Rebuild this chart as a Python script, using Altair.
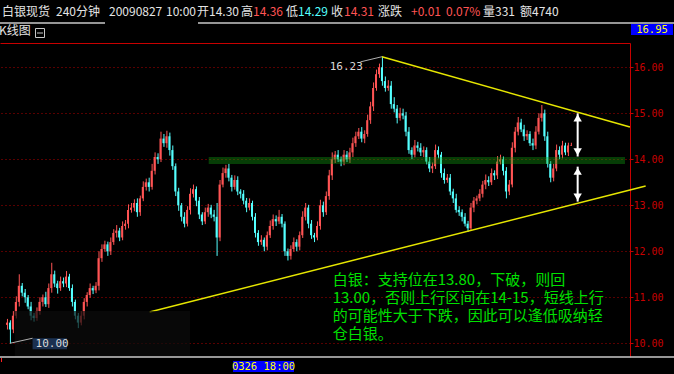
import altair as alt
import pandas as pd

# 白银现货 240分钟 K线: closing prices, oldest first
closes = [
    10.45, 10.30, 10.60, 10.90, 11.25, 11.10, 11.00, 10.80, 10.60, 10.55,
    10.70, 10.90, 11.00, 10.85, 11.20, 11.50, 11.30, 11.20, 11.35, 11.30,
    11.45, 11.20, 10.90, 10.60, 10.45, 10.60, 10.90, 11.05, 11.20, 11.15,
    11.25, 11.85, 12.05, 12.15, 12.00, 12.20, 12.40, 12.45, 12.30, 12.55,
    12.60, 12.90, 12.95, 13.05, 12.85, 13.15, 13.40, 13.50, 13.40, 13.75,
    14.05, 14.00, 14.45, 14.35, 14.50, 14.20, 13.85, 13.30, 13.00, 12.75,
    12.60, 12.90, 13.25, 13.35, 13.10, 12.80, 12.65, 12.85, 12.95, 12.80,
    12.75, 12.30, 13.45, 13.70, 13.80, 13.60, 13.40, 13.55, 13.30, 13.25,
    13.10, 12.95, 13.05, 12.75, 12.40, 12.20, 12.25, 12.10, 12.35, 12.55,
    12.70, 12.65, 12.75, 12.60, 12.00, 11.90, 12.05, 12.20, 12.10, 12.35,
    12.75, 12.95, 12.60, 12.35, 12.30, 12.55, 13.00, 12.85, 13.20, 13.65,
    14.00, 14.10, 14.00, 13.95, 14.10, 14.00, 14.15, 14.35, 14.50, 14.60,
    14.45, 14.55, 14.85, 15.15, 15.55, 15.85, 16.00, 15.70, 15.55, 15.60,
    15.20, 15.10, 14.90, 15.00, 14.95, 14.60, 14.20, 14.10, 14.30, 14.25,
    14.15, 14.20, 13.95, 13.80, 13.85, 14.20, 14.10, 13.70, 13.55, 13.60,
    13.30, 13.15, 12.90, 12.85, 12.75, 12.60, 12.50, 12.95, 13.10, 13.15,
    13.25, 13.45, 13.55, 13.50, 13.70, 13.65, 13.95, 14.00, 13.75, 13.30,
    13.45, 14.25, 14.60, 14.80, 14.65, 14.50, 14.55, 14.35, 14.30, 14.60,
    14.90, 15.00, 14.50, 13.90, 13.60, 13.80, 14.20, 14.10, 14.30, 14.15,
    14.30, 14.31,
]
first_open = 10.40

# shadow lengths in cents: above the body / below the body
upper_shadow = [
    8, 5, 10, 12, 25, 6, 8, 5, 10, 6,
    8, 10, 6, 12, 10, 25, 8, 6, 10, 8,
    12, 6, 8, 5, 6, 10, 8, 6, 10, 5,
    8, 15, 10, 8, 6, 10, 8, 12, 6, 10,
    8, 12, 10, 8, 10, 6, 12, 8, 10, 15,
    10, 8, 15, 10, 12, 8, 10, 6, 8, 5,
    10, 8, 12, 10, 6, 8, 5, 10, 8, 6,
    10, 30, 10, 12, 8, 10, 6, 10, 8, 5,
    8, 6, 10, 5, 8, 6, 10, 5, 8, 12,
    10, 8, 15, 6, 5, 6, 8, 10, 6, 8,
    12, 10, 6, 8, 5, 10, 12, 8, 10, 12,
    15, 8, 10, 6, 10, 8, 10, 12, 10, 8,
    10, 8, 12, 10, 12, 10, 8, 23, 10, 12,
    10, 15, 8, 12, 10, 8, 10, 6, 12, 8,
    10, 8, 6, 10, 8, 12, 8, 6, 10, 8,
    8, 6, 10, 8, 6, 8, 6, 10, 8, 6,
    10, 8, 12, 8, 10, 6, 12, 10, 6, 8,
    10, 12, 10, 12, 8, 10, 8, 6, 10, 12,
    10, 18, 8, 10, 6, 10, 12, 8, 10, 6,
    6, 5,
]
lower_shadow = [
    10, 30, 8, 6, 10, 8, 12, 6, 10, 8,
    6, 8, 10, 6, 8, 10, 8, 12, 6, 8,
    8, 6, 10, 8, 12, 6, 8, 10, 6, 8,
    6, 10, 8, 6, 10, 8, 6, 10, 8, 6,
    8, 10, 6, 8, 10, 8, 6, 8, 10, 6,
    8, 10, 6, 8, 10, 12, 8, 10, 12, 10,
    8, 6, 10, 8, 12, 10, 8, 6, 10, 8,
    10, 40, 8, 6, 10, 8, 10, 6, 8, 10,
    8, 10, 6, 8, 10, 8, 6, 10, 8, 6,
    8, 10, 6, 8, 10, 10, 8, 6, 10, 8,
    6, 8, 10, 8, 10, 6, 8, 10, 6, 8,
    10, 8, 6, 10, 8, 6, 8, 10, 8, 6,
    8, 10, 6, 8, 10, 6, 8, 10, 8, 6,
    10, 8, 12, 6, 8, 10, 8, 10, 6, 8,
    8, 10, 6, 8, 10, 6, 8, 10, 8, 6,
    8, 10, 6, 8, 10, 6, 8, 6, 10, 8,
    6, 8, 10, 8, 6, 10, 8, 6, 10, 15,
    8, 6, 10, 8, 6, 10, 8, 6, 10, 8,
    6, 8, 10, 8, 10, 8, 6, 10, 8, 6,
    8, 1,
]

volume, amount = 331, 4740
y_ticks = [10, 11, 12, 13, 14, 15, 16]

# trend lines (bar index, price)
trend_upper = [(127, 16.23), (211, 14.70)]
trend_lower = [(48.33, 10.68), (216.33, 13.42)]
support_band = (68.33, 209.33, 13.90, 14.05)
arrows = [(193.3, 15.00, 14.06), (193.3, 13.84, 13.08)]

note_lines = [
    "白银：支持位在13.80，下破，则回",
    "13.00，否则上行区间在14-15，短线上行",
    "的可能性大于下跌，因此可以逢低吸纳轻",
    "仓白银。",
]

UP, DOWN, FLAT = "#ff5454", "#54ffff", "#c0c0c0"
FRAME_RED = "#c80000"
CJK = "Noto Sans CJK SC"
MONO = "DejaVu Sans Mono"

W, H = 630, 314
xs = alt.Scale(domain=[-0.667, 209.333], nice=False, zero=False)
ys = alt.Scale(domain=[9.702, 16.528], nice=False, zero=False)
x_axis = alt.Axis(orient="top", labels=False, ticks=False, grid=False,
                  domainColor=FRAME_RED, title=None)
y_axis = alt.Axis(orient="right", values=y_ticks, format=".2f", title=None,
                  labelColor=FRAME_RED, labelFont=MONO, labelFontSize=10,
                  labelPadding=0, tickColor=FRAME_RED, tickSize=3,
                  domainColor=FRAME_RED, grid=True, gridColor="#b00000",
                  gridDash=[1, 3], gridWidth=1)


def X(field):
    return alt.X(field, type="quantitative", scale=xs, axis=x_axis)


def Y(field):
    return alt.Y(field, type="quantitative", scale=ys, axis=y_axis)


def PX(field):
    return alt.X(field, type="quantitative", scale=None, axis=None)


def PY(field):
    return alt.Y(field, type="quantitative", scale=None, axis=None)


opens = [first_open] + closes[:-1]
highs = [round(max(o, c) + u / 100, 2) for o, c, u in zip(opens, closes, upper_shadow)]
lows = [round(min(o, c) - d / 100, 2) for o, c, d in zip(opens, closes, lower_shadow)]
bars = pd.DataFrame({"i": range(len(closes)), "o": opens, "c": closes, "h": highs, "l": lows})
bars["col"] = [UP if c > o else (DOWN if c < o else FLAT) for o, c in zip(opens, closes)]

wicks = alt.Chart(bars).mark_rule(strokeWidth=1, xOffset=0.5).encode(
    x=X("i"), y=Y("l"), y2="h", color=alt.Color("col:N", scale=None))
bodies = alt.Chart(bars).mark_bar(width=2).encode(
    x=X("i"), y=Y("o"), y2="c", color=alt.Color("col:N", scale=None))

bx0, bx1, by0, by1 = support_band
band = alt.Chart(pd.DataFrame([{"x": bx0, "x2": bx1, "y": by0, "y2": by1}])).mark_rect(
    color="#10a010", opacity=0.38).encode(x=X("x"), x2="x2", y=Y("y"), y2="y2")

trend_df = pd.DataFrame(
    [{"seg": "upper", "x": x, "y": y} for x, y in trend_upper]
    + [{"seg": "lower", "x": x, "y": y} for x, y in trend_lower])
trends = alt.Chart(trend_df).mark_line(color="#e6e600", strokeWidth=1.5).encode(
    x=X("x"), y=Y("y"), detail="seg:N")

# extreme price markers
hi_idx = highs.index(max(highs))
lo_idx = lows.index(min(lows))
hi_line = alt.Chart(pd.DataFrame({"x": [119.7, hi_idx], "y": [16.117, max(highs)]})).mark_line(
    color="#b0b0b0", strokeWidth=1).encode(x=X("x"), y=Y("y"))
hi_text = alt.Chart(pd.DataFrame([{"x": 109.3, "y": 16.0, "t": f"{max(highs):.2f}"}])).mark_text(
    align="left", baseline="middle", font=MONO, fontSize=11, color="#d8d8d8").encode(
    x=X("x"), y=Y("y"), text="t:N")

dim = alt.Chart(pd.DataFrame([{"x": 2.67, "x2": 62.0, "y": 9.702, "y2": 10.70}])).mark_rect(
    color="#0c0c0c", opacity=0.7).encode(x=X("x"), x2="x2", y=Y("y"), y2="y2")
lo_box = alt.Chart(pd.DataFrame([{"x": 8.67, "x2": 20.33, "y": 9.87, "y2": 10.11}])).mark_rect(
    color="#1a3050").encode(x=X("x"), x2="x2", y=Y("y"), y2="y2")
lo_line = alt.Chart(pd.DataFrame({"x": [lo_idx, 8.67], "y": [min(lows), 10.11]})).mark_line(
    color="#b0b0b0", strokeWidth=1).encode(x=X("x"), y=Y("y"))
lo_text = alt.Chart(pd.DataFrame([{"x": 9.7, "y": 9.99, "t": f"{min(lows):.2f}"}])).mark_text(
    align="left", baseline="middle", font=MONO, fontSize=11, color="#d8d8d8").encode(
    x=X("x"), y=Y("y"), text="t:N")

arrow_df = pd.DataFrame([{"x": x, "top": t, "bot": b} for x, t, b in arrows])
shafts = alt.Chart(arrow_df).mark_rule(color="white", strokeWidth=2).encode(
    x=X("x"), y=Y("top"), y2="bot")
heads_up = alt.Chart(arrow_df).transform_calculate(hy="datum.top - 0.1").mark_point(
    shape="triangle-up", filled=True, color="white", size=70, opacity=1).encode(
    x=X("x"), y=Y("hy"))
heads_dn = alt.Chart(arrow_df).transform_calculate(hy="datum.bot + 0.1").mark_point(
    shape="triangle-down", filled=True, color="white", size=70, opacity=1).encode(
    x=X("x"), y=Y("hy"))

note_df = pd.DataFrame({"t": note_lines, "x": [110.33] * 4, "y": [11.376, 10.985, 10.594, 10.202]})
notes = alt.Chart(note_df).mark_text(
    align="left", baseline="middle", font=CJK, fontSize=15, color="#00e000").encode(
    x=X("x"), y=Y("y"), text="t:N")

# header bar above the plot frame (pixel positions relative to the plot origin)
o_last, h_last, l_last, c_last = opens[-1], highs[-1], lows[-1], closes[-1]
chg = c_last - closes[-2]
pct = chg / closes[-2] * 100
WHITE = "#e4e4e4"
header_df = pd.DataFrame([
    {"t": "白银现货", "px": 2, "c": WHITE},
    {"t": "240分钟", "px": 56, "c": WHITE},
    {"t": "20090827", "px": 109, "c": WHITE},
    {"t": "10:00", "px": 166, "c": WHITE},
    {"t": f"开{o_last:.2f}", "px": 197, "c": WHITE},
    {"t": "高", "px": 241, "c": WHITE},
    {"t": f"{h_last:.2f}", "px": 253, "c": UP},
    {"t": "低", "px": 286, "c": WHITE},
    {"t": f"{l_last:.2f}", "px": 298, "c": DOWN},
    {"t": "收", "px": 331, "c": WHITE},
    {"t": f"{c_last:.2f}", "px": 344, "c": UP},
    {"t": "涨跌", "px": 378, "c": WHITE},
    {"t": f"{chg:+.2f}", "px": 411, "c": UP},
    {"t": f"{pct:.2f}%", "px": 446, "c": UP},
    {"t": f"量{volume}", "px": 483, "c": WHITE},
    {"t": f"额{amount}", "px": 520, "c": WHITE},
    {"t": "K线图", "px": -1, "c": WHITE, "py": -12},
])
header_df["py"] = header_df["py"].fillna(-31)
header = alt.Chart(header_df).mark_text(
    align="left", baseline="middle", font=CJK, fontSize=12).encode(
    x=PX("px"), y=PY("py"), text="t:N", color=alt.Color("c:N", scale=None))

rules_df = pd.DataFrame([
    {"x": 0, "x2": 105, "y": -20, "c": "#c8c8c8"},
    {"x": 198, "x2": 674, "y": -20, "c": "#c8c8c8"},
    {"x": 0, "x2": 674, "y": 314, "c": "#c8c8c8"},
])
frame_rules = alt.Chart(rules_df).mark_rule(strokeWidth=1.5).encode(
    x=PX("x"), x2="x2", y=PY("y"), color=alt.Color("c:N", scale=None))
red_tick = alt.Chart(pd.DataFrame([{"x": 1.5, "y": 315, "y2": 319}])).mark_rule(
    color="#ff2020", strokeWidth=1).encode(x=PX("x"), y=PY("y"), y2="y2")

icon_box = alt.Chart(pd.DataFrame([{"x": 35.5, "x2": 44.5, "y": -14.5, "y2": -5.5}])).mark_rect(
    fill="black", stroke="#c8c8c8", strokeWidth=1).encode(x=PX("x"), x2="x2", y=PY("y"), y2="y2")
icon_minus = alt.Chart(pd.DataFrame([{"x": 37, "x2": 43, "y": -10}])).mark_rule(
    color="#c8c8c8", strokeWidth=1).encode(x=PX("x"), x2="x2", y=PY("y"))

tags_df = pd.DataFrame([
    {"t": "16.95", "x": 631, "x2": 673, "y": -19, "y2": -8},
    {"t": "0326 18:00", "x": 233, "x2": 294, "y": 318, "y2": 329},
])
tag_boxes = alt.Chart(tags_df).mark_rect(color="#0000ff").encode(
    x=PX("x"), x2="x2", y=PY("y"), y2="y2")
tag_text = alt.Chart(tags_df).transform_calculate(
    cx="(datum.x + datum.x2) / 2", cy="(datum.y + datum.y2) / 2").mark_text(
    align="center", baseline="middle", font=MONO, fontSize=10.5, color="#ffff00").encode(
    x=PX("cx"), y=PY("cy"), text="t:N")

chart = alt.layer(
    wicks, bodies, band, trends, hi_line, hi_text, dim, lo_box, lo_line, lo_text,
    shafts, heads_up, heads_dn, notes, header, frame_rules, red_tick,
    icon_box, icon_minus, tag_boxes, tag_text,
).properties(
    width=W, height=H,
    padding={"left": 0, "top": 43, "right": 44, "bottom": 17},
    autosize=alt.AutoSizeParams(type="none"),
    background="#000000",
).configure_view(stroke=None)

chart.save("out.html", embed_options={"renderer": "svg", "actions": False})
